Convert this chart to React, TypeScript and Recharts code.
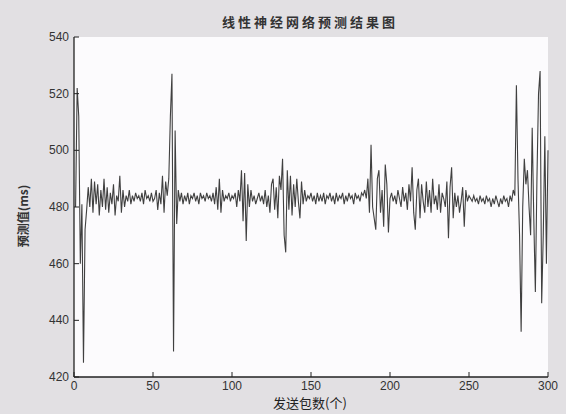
import React from "react";
import { LineChart, Line, XAxis, YAxis, CartesianGrid } from "recharts";

const chartTitle = "线性神经网络预测结果图";
const xLabel = "发送包数(个)";
const yLabel = "预测值(ms)";
const xTicks = [0, 50, 100, 150, 200, 250, 300];
const yTicks = [420, 440, 460, 480, 500, 520, 540];

// predicted values for packets 1..300
const predicted = [
  480, 522, 512, 460, 481, 425, 472, 479, 487, 480,
  490, 478, 489, 481, 488, 477, 486, 480, 490, 479,
  487, 478, 485, 481, 488, 477, 484, 482, 491, 478,
  486, 480, 484, 482, 486, 481, 484, 482, 485, 483,
  484, 482, 485, 481, 486, 483, 484, 482, 485, 482,
  483, 486, 479, 485, 481, 491, 478, 489, 484, 490,
  512, 527, 429, 507, 474, 486, 482, 485, 481, 484,
  482, 485, 481, 484, 483, 485, 482, 484, 481, 485,
  483, 484, 482, 485, 483, 484, 482, 485, 481, 487,
  479, 490, 478, 486, 482, 484, 483, 485, 482, 484,
  483, 485, 480, 486, 482, 493, 475, 492, 468, 488,
  480, 486, 482, 484, 481, 483, 485, 482, 484, 481,
  486, 480, 484, 478, 488, 490, 479, 487, 476, 491,
  486, 497, 470, 464, 493, 479, 491, 477, 488, 480,
  490, 482, 476, 489, 481, 486, 482, 484, 483, 485,
  482, 484, 481, 485, 482, 484, 482, 485, 481, 484,
  483, 485, 482, 484, 481, 485, 482, 484, 483, 485,
  481, 484, 482, 485, 483, 484, 481, 485, 483, 484,
  482, 485, 484, 486, 483, 490, 478, 502, 480, 476,
  472, 490, 493, 478, 486, 473, 495, 488, 471, 483,
  485, 482, 484, 481, 486, 483, 480, 487, 482, 485,
  479, 488, 482, 494, 478, 472, 486, 490, 476, 488,
  482, 478, 489, 480, 486, 478, 490, 481, 484, 479,
  488, 478, 485, 483, 480, 489, 469, 487, 494, 476,
  485, 480, 484, 478, 482, 487, 473, 486, 482, 484,
  483, 482, 484, 482, 483, 481, 484, 482, 483, 481,
  484, 482, 483, 480, 483, 481, 484, 482, 480, 483,
  481, 484, 482, 483, 480, 484, 482, 486, 484, 523,
  490, 470, 436, 480, 497, 488, 493, 480, 470, 508,
  476, 450, 490, 520, 528, 446, 470, 505, 460, 500,
];

const data = predicted.map((v, i) => ({ x: i + 1, v }));

const tickFont = "'Liberation Sans', Arial, sans-serif";
const cjkFont = "'Noto Sans CJK SC', sans-serif";

const BottomTick = (props: any) => {
  const { x, y, payload } = props;
  return (
    <g>
      <line x1={x} y1={y} x2={x} y2={y - 5} stroke="#222" strokeWidth={1} />
      <text x={x} y={y + 13} textAnchor="middle" fontSize={12} fill="#333" fontFamily={tickFont}>
        {payload.value}
      </text>
    </g>
  );
};

const TopTick = (props: any) => {
  const { x, y } = props;
  return <line x1={x} y1={y} x2={x} y2={y + 5} stroke="#222" strokeWidth={1} />;
};

const LeftTick = (props: any) => {
  const { x, y, payload } = props;
  return (
    <g>
      <line x1={x} y1={y} x2={x + 5} y2={y} stroke="#222" strokeWidth={1} />
      <text x={x - 5} y={y + 4} textAnchor="end" fontSize={12} fill="#333" fontFamily={tickFont}>
        {payload.value}
      </text>
    </g>
  );
};

const RightTick = (props: any) => {
  const { x, y } = props;
  return <line x1={x} y1={y} x2={x - 5} y2={y} stroke="#222" strokeWidth={1} />;
};

export default function App() {
  return (
    <div
      style={{
        position: "absolute",
        left: 0,
        top: 0,
        width: 566,
        height: 414,
        background: "#e2e0e3",
      }}
    >
      <LineChart
        width={566}
        height={414}
        data={data}
        margin={{ top: 37, right: 18, bottom: 0, left: 0 }}
      >
        <CartesianGrid horizontal={false} vertical={false} fill="#fcfbfd" />
        <XAxis
          xAxisId={0}
          dataKey="x"
          type="number"
          domain={[0, 300]}
          ticks={xTicks}
          height={37}
          tickSize={0}
          tickMargin={0}
          tickLine={false}
          axisLine={{ stroke: "#222", strokeWidth: 1.3 }}
          tick={<BottomTick />}
          interval={0}
        />
        <XAxis
          xAxisId="top"
          orientation="top"
          dataKey="x"
          type="number"
          domain={[0, 300]}
          ticks={xTicks}
          height={0}
          tickSize={0}
          tickMargin={0}
          tickLine={false}
          axisLine={{ stroke: "#222", strokeWidth: 1.3 }}
          tick={<TopTick />}
          interval={0}
        />
        <YAxis
          yAxisId={0}
          type="number"
          domain={[420, 540]}
          ticks={yTicks}
          width={74}
          tickSize={0}
          tickMargin={0}
          tickLine={false}
          axisLine={{ stroke: "#222", strokeWidth: 1.3 }}
          tick={<LeftTick />}
          interval={0}
          allowDataOverflow
        />
        <YAxis
          yAxisId="right"
          orientation="right"
          type="number"
          domain={[420, 540]}
          ticks={yTicks}
          width={0}
          tickSize={0}
          tickMargin={0}
          tickLine={false}
          axisLine={{ stroke: "#222", strokeWidth: 1.3 }}
          tick={<RightTick />}
          interval={0}
          allowDataOverflow
        />
        <Line
          xAxisId={0}
          yAxisId={0}
          dataKey="v"
          type="linear"
          stroke="#404040"
          strokeWidth={1.1}
          dot={false}
          isAnimationActive={false}
        />
        <text
          x={310}
          y={27}
          textAnchor="middle"
          fontSize={13}
          fontWeight="bold"
          fill="#333"
          letterSpacing={3}
          fontFamily={cjkFont}
        >
          {chartTitle}
        </text>
        <text
          x={310}
          y={408}
          textAnchor="middle"
          fontSize={13}
          fill="#222"
          fontFamily={cjkFont}
        >
          {xLabel}
        </text>
        <text
          x={0}
          y={0}
          transform="translate(28, 216) rotate(-90)"
          textAnchor="middle"
          fontSize={12}
          fontWeight="bold"
          fill="#333"
          fontFamily={cjkFont}
        >
          {yLabel}
        </text>
      </LineChart>
    </div>
  );
}
